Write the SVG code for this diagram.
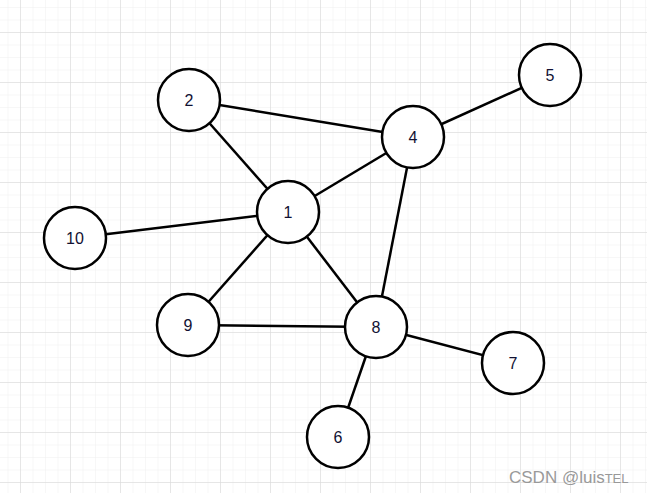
<svg xmlns="http://www.w3.org/2000/svg" width="647" height="493" viewBox="0 0 647 493">
<style>
.node circle{fill:#fff;stroke:#000;stroke-width:2.5}
.node text{font-family:"Liberation Sans",Arial,sans-serif;font-size:16px;fill:#111133;text-anchor:middle;dominant-baseline:central}
.edges line{stroke:#000;stroke-width:2.5}
.wm{font-family:"Liberation Sans",Arial,sans-serif;font-size:17px;fill:#999}
</style>
<defs>
<pattern id="minor" width="12.5" height="12.5" patternUnits="userSpaceOnUse" x="7.5" y="7">
<path d="M0 0H12.5M0 0V12.5" fill="none" stroke="#efefef" stroke-width="1"/>
</pattern>
<pattern id="major" width="50" height="50" patternUnits="userSpaceOnUse" x="20" y="32">
<path d="M0 0H50M0 0V50" fill="none" stroke="#d6d6d6" stroke-width="1"/>
</pattern>
</defs>
<rect width="647" height="493" fill="#fff"/>
<rect width="647" height="493" fill="url(#minor)"/>
<rect width="647" height="493" fill="url(#major)"/>
<g class="edges">
<line x1="189" y1="100" x2="413" y2="137"/>
<line x1="189" y1="100" x2="288" y2="212"/>
<line x1="413" y1="137" x2="550" y2="75"/>
<line x1="413" y1="137" x2="288" y2="212"/>
<line x1="413" y1="137" x2="376" y2="327"/>
<line x1="288" y1="212" x2="75" y2="238"/>
<line x1="288" y1="212" x2="188" y2="325"/>
<line x1="288" y1="212" x2="376" y2="327"/>
<line x1="188" y1="325" x2="376" y2="327"/>
<line x1="376" y1="327" x2="513" y2="363"/>
<line x1="376" y1="327" x2="338" y2="437"/>
</g>
<g id="n1" class="node"><circle cx="288" cy="212" r="31"/><text x="288" y="212">1</text></g>
<g id="n2" class="node"><circle cx="189" cy="100" r="31"/><text x="189" y="100">2</text></g>
<g id="n4" class="node"><circle cx="413" cy="137" r="31"/><text x="413" y="137">4</text></g>
<g id="n5" class="node"><circle cx="550" cy="75" r="31"/><text x="550" y="75">5</text></g>
<g id="n10" class="node"><circle cx="75" cy="238" r="31"/><text x="75" y="238">10</text></g>
<g id="n9" class="node"><circle cx="188" cy="325" r="31"/><text x="188" y="325">9</text></g>
<g id="n8" class="node"><circle cx="376" cy="327" r="31"/><text x="376" y="327">8</text></g>
<g id="n7" class="node"><circle cx="513" cy="363" r="31"/><text x="513" y="363">7</text></g>
<g id="n6" class="node"><circle cx="338" cy="437" r="31"/><text x="338" y="437">6</text></g>
<text class="wm" x="509" y="483">CSDN @luis<tspan font-size="13">TEL</tspan></text>
</svg>
